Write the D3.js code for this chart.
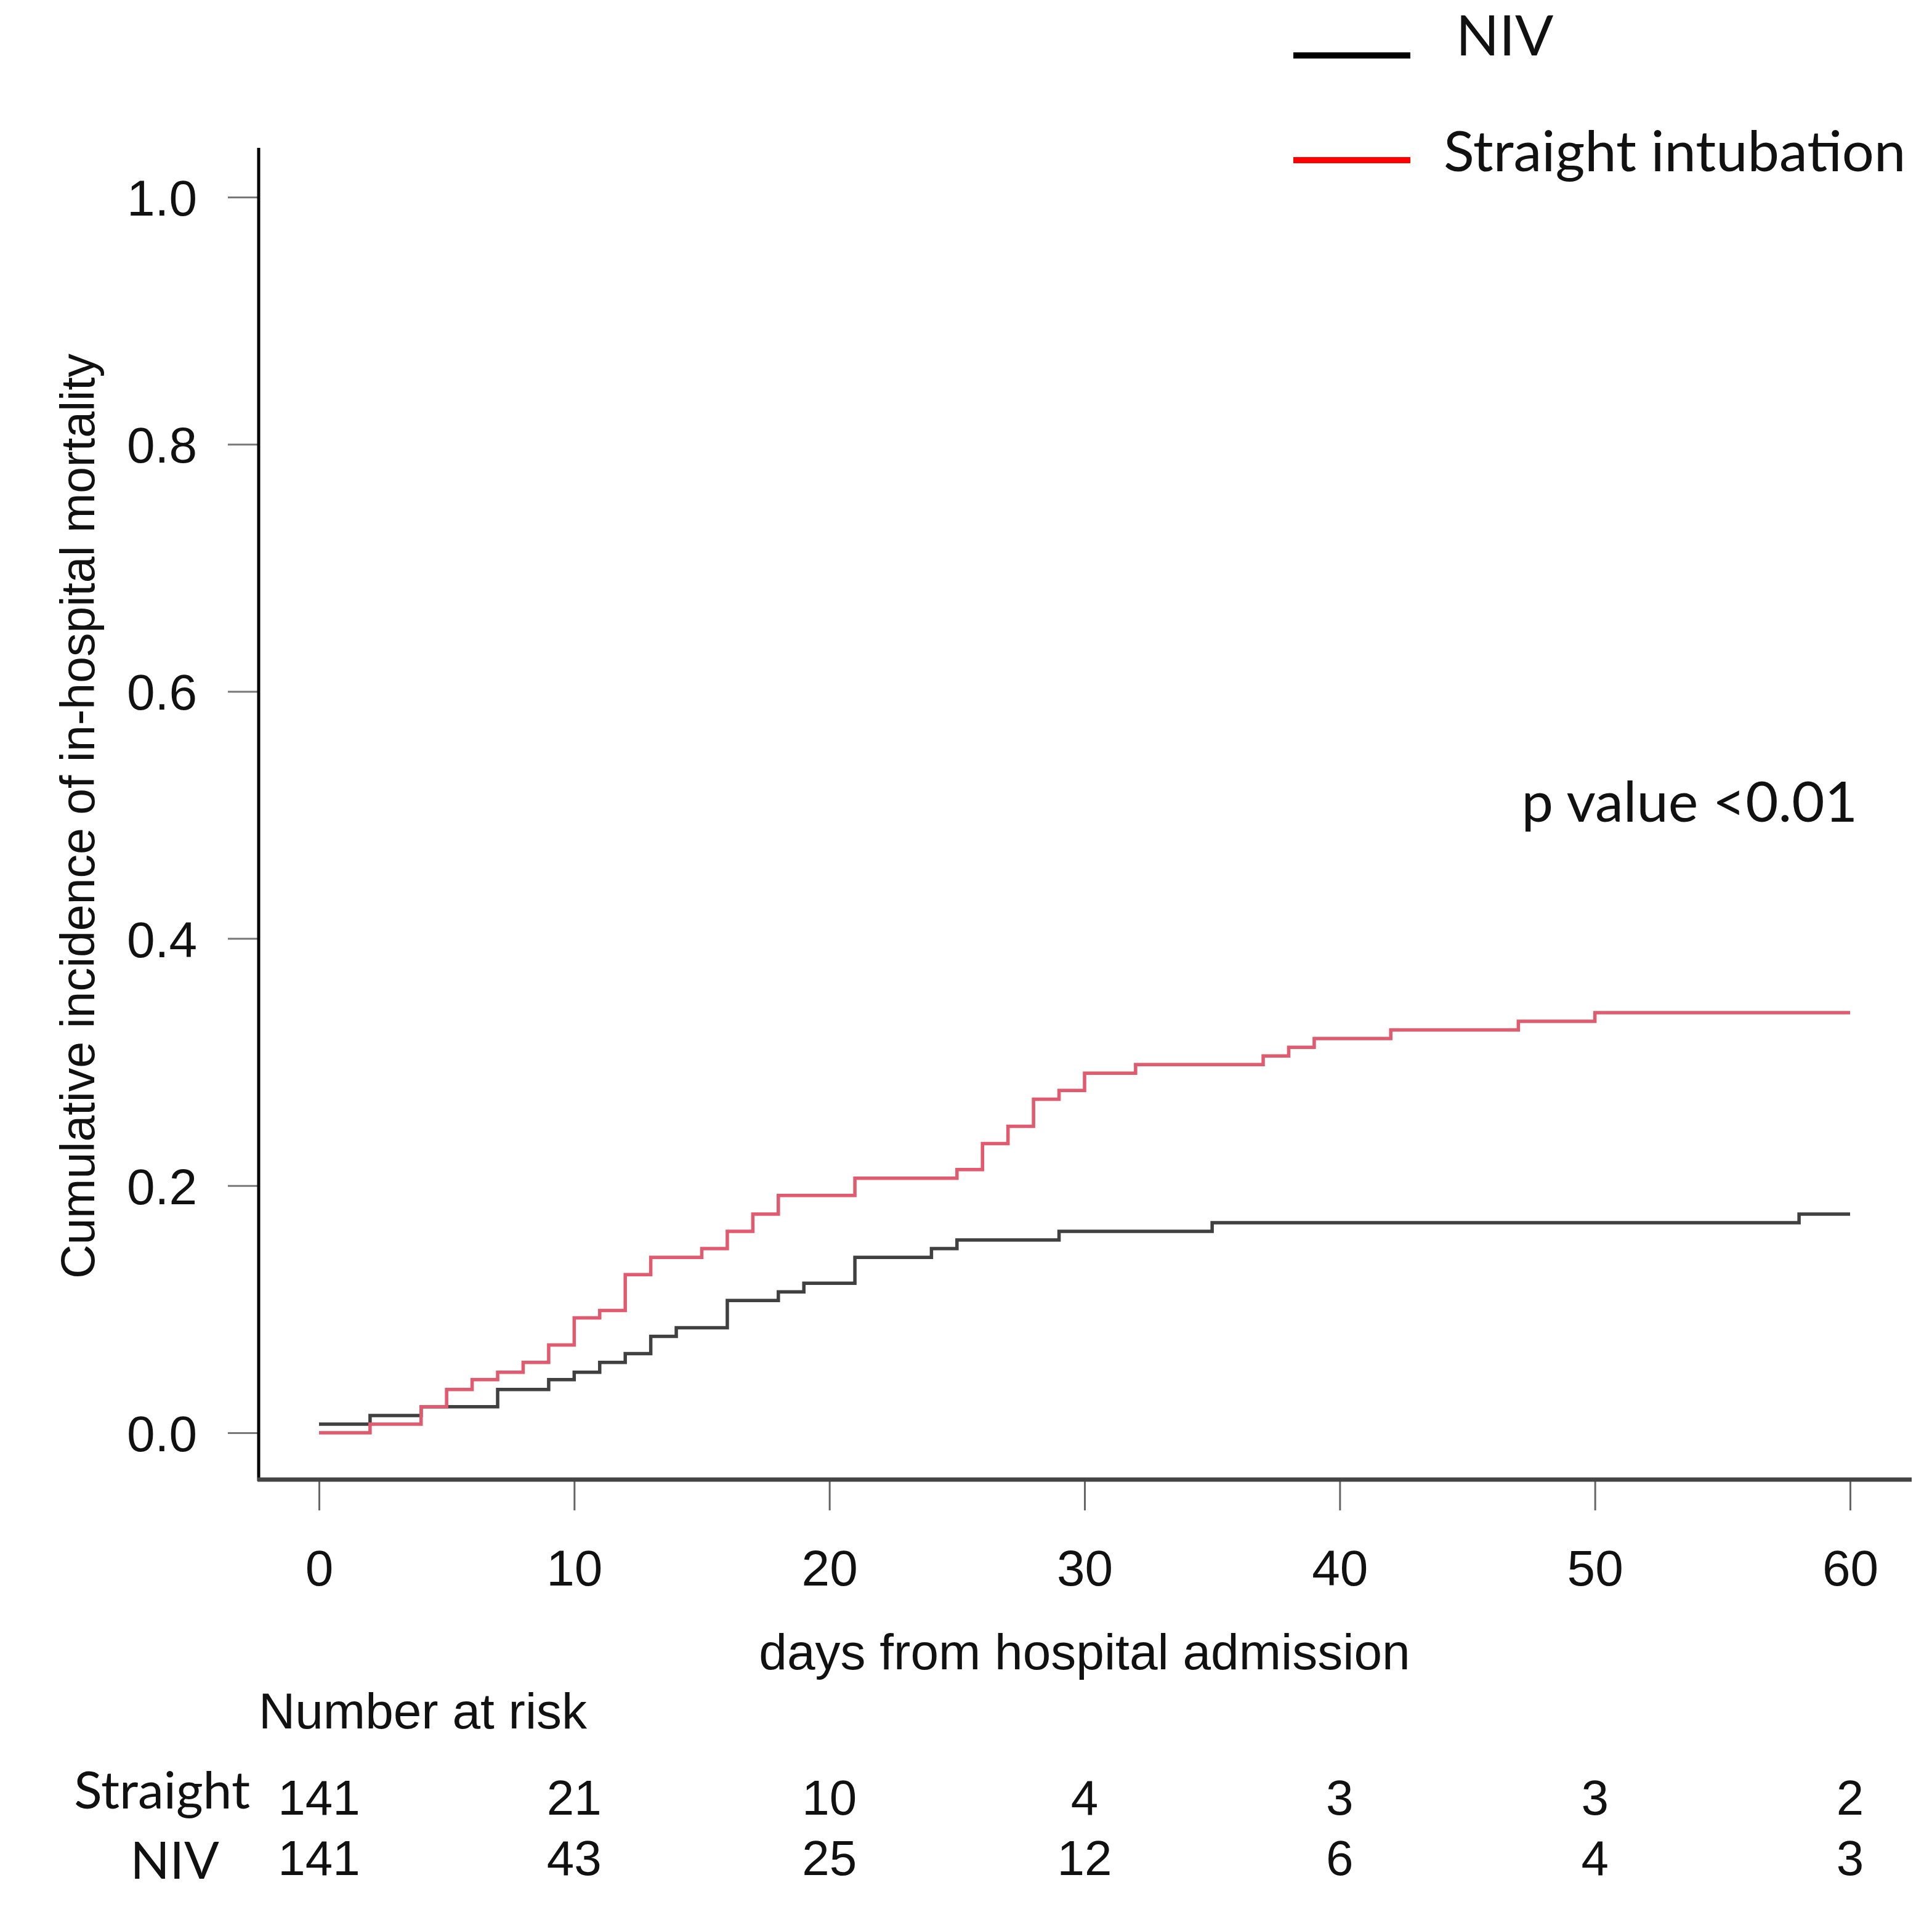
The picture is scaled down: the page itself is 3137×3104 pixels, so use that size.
<!DOCTYPE html>
<html>
<head>
<meta charset="utf-8">
<script src="https://cdn.jsdelivr.net/npm/d3@7"></script>
<style>
  body { margin: 0; background: #fff; }
</style>
</head>
<body>
<div id="canvas"></div>
<script>
// step points: day of event, cumulative incidence after it
const straight_days = [0, 2, 4, 5, 6, 7, 8, 9, 10, 11, 12, 13, 15, 16, 17, 18, 21, 25, 26, 27, 28, 29, 30, 32, 37, 38, 39, 42, 47, 50, 60];
const straight_vals = [0, 0.007, 0.021, 0.035, 0.043, 0.049, 0.057, 0.071, 0.093, 0.099, 0.128, 0.142, 0.149, 0.163, 0.177, 0.192, 0.206, 0.213, 0.234, 0.248, 0.270, 0.277, 0.291, 0.298, 0.305, 0.312, 0.319, 0.326, 0.333, 0.340, 0.340];
const niv_days = [0, 2, 4, 7, 9, 10, 11, 12, 13, 14, 16, 18, 19, 21, 24, 25, 29, 35, 58, 60];
const niv_vals = [0.007, 0.014, 0.021, 0.035, 0.043, 0.049, 0.057, 0.064, 0.078, 0.085, 0.107, 0.114, 0.121, 0.142, 0.149, 0.156, 0.163, 0.170, 0.177, 0.177];

const x_ticks = [0, 10, 20, 30, 40, 50, 60];
const y_ticks = [0, 0.2, 0.4, 0.6, 0.8, 1.0];
const risk_straight = [141, 21, 10, 4, 3, 3, 2];
const risk_niv = [141, 43, 25, 12, 6, 4, 3];

const series = [
  { name: 'NIV', days: niv_days, vals: niv_vals, color: '#404040', legend: '#000000' },
  { name: 'Straight intubation', days: straight_days, vals: straight_vals, color: '#e25a6e', legend: '#ff0000' },
];

const W = 3137, H = 3104;
const arial = '"Liberation Sans", Arial, sans-serif';
const calibri = 'Lato, "Open Sans", sans-serif';

let svg = d3.select('#canvas')
  .append('svg')
  .attr('width', W)
  .attr('height', H)
  .style('background', '#fff');

const x = d3.scaleLinear().domain([0, 60]).range([518, 3004]);
const y = d3.scaleLinear().domain([0, 1]).range([2326, 320]);

// y axis
const yAxis = svg.append('g')
  .attr('transform', 'translate(420,0)')
  .call(d3.axisLeft(y).tickValues(y_ticks).tickSize(50).tickPadding(50).tickFormat(d3.format('.1f')));
yAxis.select('.domain').remove();
yAxis.selectAll('line').attr('stroke', '#777').attr('stroke-width', 3);
yAxis.selectAll('text')
  .attr('font-family', arial)
  .attr('font-size', 82)
  .attr('fill', '#111')
  .attr('dy', '0.36em');

// x axis
const xAxis = svg.append('g')
  .attr('transform', 'translate(0,2402)')
  .call(d3.axisBottom(x).tickValues(x_ticks).tickSize(50).tickPadding(64));
xAxis.select('.domain').remove();
xAxis.selectAll('line').attr('stroke', '#666').attr('stroke-width', 3);
xAxis.selectAll('text')
  .attr('font-family', arial)
  .attr('font-size', 82)
  .attr('fill', '#111');

svg.append('line')
  .attr('x1', 420).attr('x2', 420).attr('y1', 240).attr('y2', 2404)
  .attr('stroke', '#000').attr('stroke-width', 5);
svg.append('line')
  .attr('x1', 418).attr('x2', 3104).attr('y1', 2402).attr('y2', 2402)
  .attr('stroke', '#444').attr('stroke-width', 7);

// curves
const line = d3.line()
  .x((d) => x(d[0]))
  .y((d) => y(d[1]))
  .curve(d3.curveStepAfter);

svg.selectAll('.km')
  .data(series)
  .join('path')
  .attr('class', 'km')
  .attr('fill', 'none')
  .attr('stroke', (d) => d.color)
  .attr('stroke-width', 5.5)
  .attr('d', (d) => line(d.days.map((t, i) => [t, d.vals[i]])));

// legend
const legend = svg.selectAll('.legend')
  .data(series)
  .join('g')
  .attr('class', 'legend')
  .attr('transform', (d, i) => `translate(2100,${90 + i * 170})`);
legend.append('line')
  .attr('x1', 0).attr('x2', 190)
  .attr('stroke', (d) => d.legend)
  .attr('stroke-width', 10);
legend.append('text')
  .attr('x', (d, i) => i === 0 ? 264 : 244)
  .attr('y', (d, i) => i === 0 ? 0 : 18)
  .attr('font-family', calibri)
  .attr('font-size', 92)
  .attr('fill', '#111')
  .text((d) => d.name);

svg.append('text')
  .attr('x', 3016).attr('y', 1334)
  .attr('text-anchor', 'end')
  .attr('font-family', calibri)
  .attr('font-size', 92)
  .attr('fill', '#111')
  .text('p value <0.01');

// axis titles
svg.append('text')
  .attr('transform', 'translate(153,1325) rotate(-90)')
  .attr('text-anchor', 'middle')
  .attr('font-family', arial)
  .attr('font-size', 77)
  .attr('fill', '#111')
  .text('Cumulative incidence of in-hospital mortality');

svg.append('text')
  .attr('x', x(30)).attr('y', 2710)
  .attr('text-anchor', 'middle')
  .attr('font-family', arial)
  .attr('font-size', 82)
  .attr('fill', '#111')
  .text('days from hospital admission');

// number at risk table
svg.append('text')
  .attr('x', 420).attr('y', 2806)
  .attr('font-family', arial)
  .attr('font-size', 82)
  .attr('fill', '#111')
  .text('Number at risk');

const rows = [
  { label: 'Straight', counts: risk_straight, y: 2946, lx: 406, ly: 2936 },
  { label: 'NIV', counts: risk_niv, y: 3044, lx: 356, ly: 3050 },
];
rows.forEach((r) => {
  svg.append('text')
    .attr('x', r.lx).attr('y', r.ly)
    .attr('text-anchor', 'end')
    .attr('font-family', calibri)
    .attr('font-size', 84)
    .attr('fill', '#111')
    .text(r.label);
  svg.selectAll(null)
    .data(r.counts)
    .join('text')
    .attr('x', (d, i) => x(x_ticks[i]))
    .attr('y', r.y)
    .attr('text-anchor', 'middle')
    .attr('font-family', arial)
    .attr('font-size', 80)
    .attr('fill', '#111')
    .text((d) => d);
});
</script>
</body>
</html>
